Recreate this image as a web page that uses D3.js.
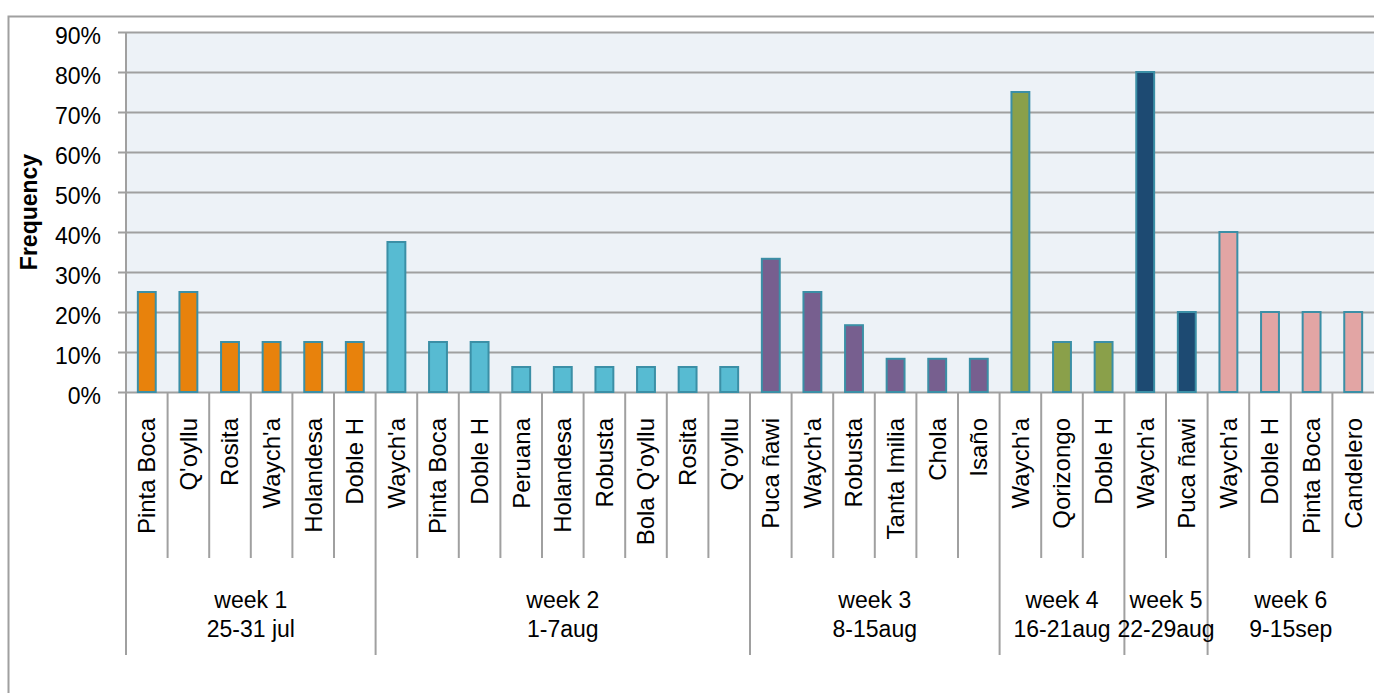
<!DOCTYPE html>
<html lang="en">
    <head>
        <meta charset="UTF-8" />
        <title>Frequency by week</title>
        <style>
            body { margin: 0; background: #ffffff; }
            text { font-family: "Liberation Sans", Arial, sans-serif; fill: #000; }
        </style>
    </head>
    <body>
        <div id="chart"></div>

        <script src="https://cdnjs.cloudflare.com/ajax/libs/d3/7.8.5/d3.min.js"></script>
        <script>
            // chart data
            var weekNames = ["week 1", "week 2", "week 3", "week 4", "week 5", "week 6"];
            var weekDates = ["25-31 jul", "1-7aug", "8-15aug", "16-21aug", "22-29aug", "9-15sep"];
            var varieties = [
                ["Pinta Boca", "Q'oyllu", "Rosita", "Waych'a", "Holandesa", "Doble H"],
                ["Waych'a", "Pinta Boca", "Doble H", "Peruana", "Holandesa", "Robusta", "Bola Q'oyllu", "Rosita", "Q'oyllu"],
                ["Puca ñawi", "Waych'a", "Robusta", "Tanta Imilia", "Chola", "Isaño"],
                ["Waych'a", "Qorizongo", "Doble H"],
                ["Waych'a", "Puca ñawi"],
                ["Waych'a", "Doble H", "Pinta Boca", "Candelero"]
            ];
            var frequencies = [
                [0.25, 0.25, 0.125, 0.125, 0.125, 0.125],
                [0.375, 0.125, 0.125, 0.0625, 0.0625, 0.0625, 0.0625, 0.0625, 0.0625],
                [0.333, 0.25, 0.167, 0.083, 0.083, 0.083],
                [0.75, 0.125, 0.125],
                [0.80, 0.20],
                [0.40, 0.20, 0.20, 0.20]
            ];
            var yTicks = [0, 0.1, 0.2, 0.3, 0.4, 0.5, 0.6, 0.7, 0.8, 0.9];
            var weekColors = ["#e8820c", "#57bbd2", "#775f8f", "#8aa04a", "#1d4a72", "#e2a5a4"];

            // flatten into one row per bar
            var rows = [];
            varieties.forEach(function(list, g) {
                list.forEach(function(name, i) {
                    rows.push({key: rows.length, group: g, name: name, value: frequencies[g][i]});
                });
            });

            var margin = {top: 32, left: 126},
                width = 1248,
                height = 360;

            var svg = d3.select("#chart")
              .append("svg")
                .attr("width", 1374)
                .attr("height", 693);

            // outer chart border (cut off at the right and bottom)
            svg.append("path")
                .attr("d", "M8.5,700 V16.5 H1380")
                .attr("fill", "none")
                .attr("stroke", "#a0a0a0")
                .attr("stroke-width", 2);

            var g = svg.append("g")
                .attr("transform", "translate(" + margin.left + "," + margin.top + ")");

            var keys = rows.map(function(d) { return d.key; });

            // one cell per category, bars centred inside
            var xCell = d3.scaleBand().domain(keys).range([0, width]).padding(0);
            var x = d3.scaleBand().domain(keys).range([0, width])
                .paddingInner(0.57).paddingOuter(0.285);

            var y = d3.scaleLinear().domain([0, 0.9]).range([height, 0]);

            g.append("rect")
                .attr("width", width)
                .attr("height", height)
                .attr("fill", "#edf2f7");

            // gridlines + y axis
            var yAxis = g.append("g")
                .call(d3.axisLeft(y).tickValues(yTicks).tickSize(-width).tickFormat(d3.format(".0%")));
            yAxis.select(".domain").remove();
            yAxis.selectAll(".tick line")
                .attr("x1", -8)
                .attr("stroke", "#a0a0a0")
                .attr("stroke-width", 2);
            yAxis.selectAll(".tick text")
                .attr("x", -25)
                .attr("dy", "0.5em")
                .style("font-family", "Liberation Sans, Arial, sans-serif")
                .style("font-size", "23px")
                .attr("fill", "#000");

            g.append("line")
                .attr("x1", 0).attr("x2", 0)
                .attr("y1", 0).attr("y2", height)
                .attr("stroke", "#a0a0a0")
                .attr("stroke-width", 2);

            // bars
            g.selectAll(".bar")
              .data(rows)
              .enter()
              .append("rect")
                .attr("class", "bar")
                .attr("x", function(d) { return x(d.key); })
                .attr("width", x.bandwidth())
                .attr("y", function(d) { return y(d.value); })
                .attr("height", function(d) { return height - y(d.value); })
                .attr("fill", function(d) { return weekColors[d.group]; })
                .attr("stroke", "#3b8fa6")
                .attr("stroke-width", 2);

            // category separators
            g.selectAll(".sep")
              .data(rows)
              .enter()
              .append("line")
                .attr("x1", function(d) { return xCell(d.key); })
                .attr("x2", function(d) { return xCell(d.key); })
                .attr("y1", height)
                .attr("y2", function(d) { return d.key > 0 && rows[d.key - 1].group == d.group ? height + 166 : height + 263; })
                .attr("stroke", "#a0a0a0")
                .attr("stroke-width", 2);

            // category labels
            g.selectAll(".cat")
              .data(rows)
              .enter()
              .append("text")
                .attr("transform", function(d) {
                    return "translate(" + (xCell(d.key) + xCell.bandwidth() / 2) + "," + (height + 26) + ")rotate(-90)";
                })
                .attr("dy", "0.35em")
                .attr("text-anchor", "end")
                .style("font-size", "24px")
                .text(function(d) { return d.name; });

            // week labels
            var groups = weekNames.map(function(name, i) {
                var members = rows.filter(function(d) { return d.group == i; });
                var x0 = xCell(members[0].key),
                    x1 = xCell(members[members.length - 1].key) + xCell.bandwidth();
                return {name: name, dates: weekDates[i], cx: (x0 + x1) / 2};
            });

            var wl = g.selectAll(".week")
              .data(groups)
              .enter()
              .append("text")
                .attr("text-anchor", "middle")
                .attr("x", function(d) { return d.cx; })
                .attr("y", height + 216)
                .style("font-size", "23px");
            wl.append("tspan")
                .attr("x", function(d) { return d.cx; })
                .text(function(d) { return d.name; });
            wl.append("tspan")
                .attr("x", function(d) { return d.cx; })
                .attr("dy", 29)
                .text(function(d) { return d.dates; });

            // y axis title
            svg.append("text")
                .attr("transform", "translate(37," + (margin.top + height / 2) + ")rotate(-90)")
                .attr("text-anchor", "middle")
                .style("font-size", "23px")
                .style("font-weight", "bold")
                .text("Frequency");
        </script>
    </body>
</html>
